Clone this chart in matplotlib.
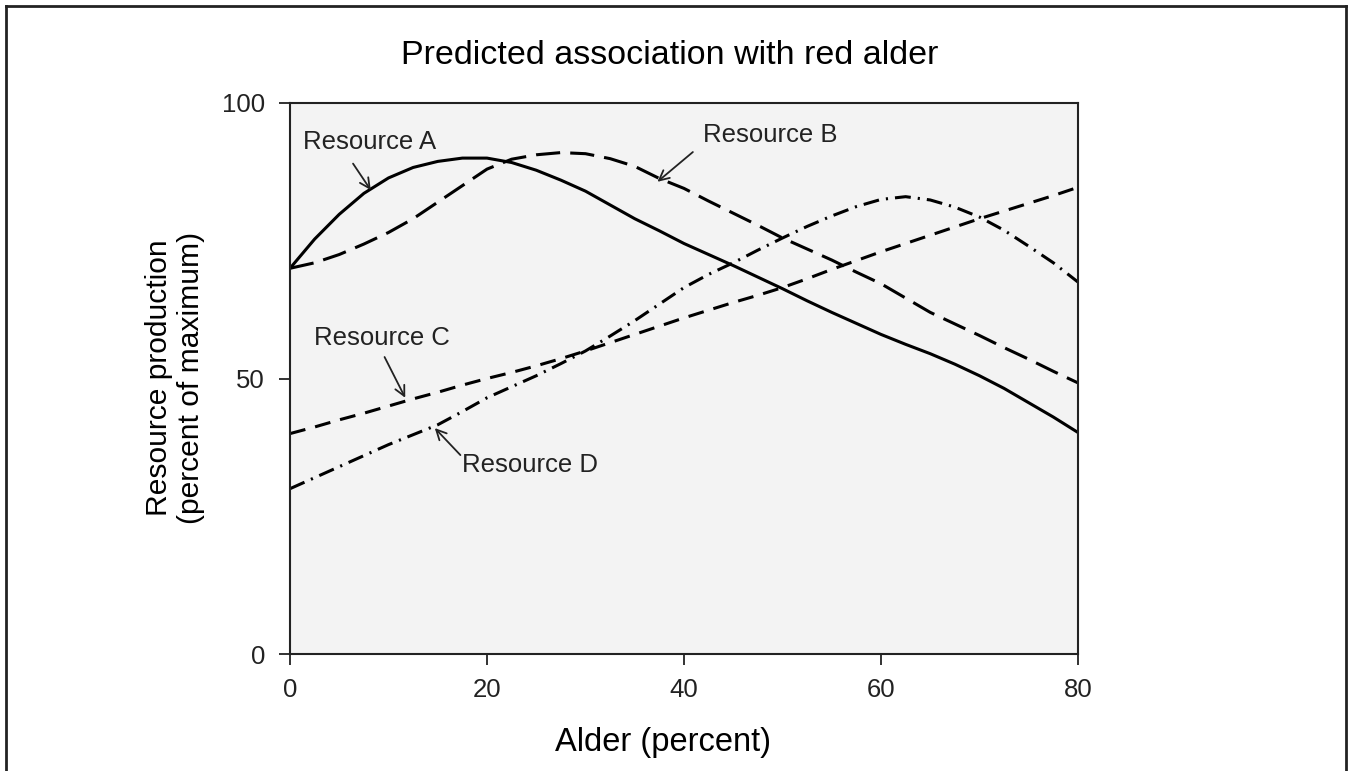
import numpy as np
import matplotlib.pyplot as plt

plt.rcParams['font.family'] = ['Liberation Sans', 'DejaVu Sans']

# values (percent alder vs. percent of maximum)
alder = [0, 2.5, 5, 7.5, 10, 12.5, 15, 17.5, 20, 22.5, 25, 27.5, 30, 32.5, 35, 37.5, 40,
         42.5, 45, 47.5, 50, 52.5, 55, 57.5, 60, 62.5, 65, 67.5, 70, 72.5, 75, 77.5, 80]
res_a = [70, 75.3, 79.8, 83.6, 86.4, 88.3, 89.4, 90, 90, 89.2, 87.8, 86, 84, 81.5, 79, 76.8, 74.5,
         72.5, 70.5, 68.4, 66.3, 64.1, 62, 60, 58, 56.2, 54.5, 52.6, 50.5, 48.2, 45.6, 43, 40.2]
res_b = [70, 71, 72.5, 74.4, 76.5, 79, 82, 85, 88, 89.8, 90.6, 91, 90.8, 89.9, 88.5, 86.3, 84.5,
         82.2, 80, 77.8, 75.5, 73.5, 71.5, 69.3, 67.2, 64.6, 62, 59.9, 57.8, 55.6, 53.5, 51.3, 49.2]
res_c = [40, 41.2, 42.5, 43.7, 45, 46.3, 47.5, 48.8, 50, 51.1, 52.3, 53.6, 55, 56.5, 58, 59.5, 61,
         62.4, 63.8, 65.1, 66.5, 68.1, 69.8, 71.4, 73, 74.5, 76, 77.5, 79, 80.4, 81.8, 83.2, 84.7]
res_d = [30, 32, 34, 36, 38, 39.8, 41.6, 44, 46.5, 48.5, 50.5, 52.7, 55, 57.7, 60.5, 63.5, 66.5,
         68.9, 71, 73.3, 75.5, 77.6, 79.5, 81.2, 82.5, 83, 82.4, 81.1, 79.3, 76.9, 74, 71, 67.5]

labels = ['Resource A', 'Resource B', 'Resource C', 'Resource D']
# (text x, text y, arrow tail x, tail y, arrow tip x, tip y)
notes = [(8.1, 92.9, 6.4, 89.0, 8.2, 84.2),
         (48.8, 94.2, 40.9, 91.1, 37.3, 85.7),
         (9.3, 57.3, 9.6, 53.9, 11.7, 46.5),
         (24.4, 34.3, 17.3, 36.1, 14.7, 41.0)]

fig = plt.figure(figsize=(13.51, 7.71), dpi=100)
ax = fig.add_axes([290/1351, 117/771, 788/1351, 551/771])
ax.set_facecolor('#f3f3f3')

ax.plot(alder, res_a, color='black', linewidth=2.2, solid_capstyle='butt')
ax.plot(alder, res_b, color='black', linewidth=2.2, dashes=(7.9, 3.3))
ax.plot(alder, res_c, color='black', linewidth=2.2, dashes=(5.2, 3.3))
ax.plot(alder, res_d, color='black', linewidth=2.2, dashes=(5.2, 2.3, 0.7, 2.3))

for lab, (tx, ty, ax0, ay0, ax1, ay1) in zip(labels, notes):
    ax.text(tx, ty, lab, ha='center', va='center', fontsize=18.5, color='#222222')
    ax.annotate('', xy=(ax1, ay1), xytext=(ax0, ay0),
                arrowprops=dict(arrowstyle='->', color='#222222', lw=1.3,
                                mutation_scale=18, shrinkA=0, shrinkB=0))

ax.set_xlim(0, 80)
ax.set_ylim(0, 100)
ax.set_xticks([0, 20, 40, 60, 80])
ax.set_yticks([0, 50, 100])
ax.tick_params(direction='out', length=8, width=1.3, labelsize=18.5, colors='#222222')
ax.tick_params(axis='y', pad=10)
ax.tick_params(axis='x', pad=9)
for s in ax.spines.values():
    s.set_linewidth(1.5)
    s.set_color('#222222')

fig.text(670/1351, 1 - 55/771, 'Predicted association with red alder',
         ha='center', va='center', fontsize=24.5)
fig.text(663/1351, 1 - 742/771, 'Alder (percent)', ha='center', va='center', fontsize=23.5)
fig.text(175/1351, 1 - 378/771, 'Resource production\n(percent of maximum)',
         ha='center', va='center', rotation=90, fontsize=21.6, linespacing=1.2)

# frame round the figure (top, left, right)
fig.add_artist(plt.Line2D([6/1351, 6/1351], [0, 1 - 6/771], transform=fig.transFigure, color='#222222', lw=2))
fig.add_artist(plt.Line2D([1346/1351, 1346/1351], [0, 1 - 6/771], transform=fig.transFigure, color='#222222', lw=2))
fig.add_artist(plt.Line2D([6/1351, 1346/1351], [1 - 6/771, 1 - 6/771], transform=fig.transFigure, color='#222222', lw=2))

fig.savefig('out.png', dpi=100)
